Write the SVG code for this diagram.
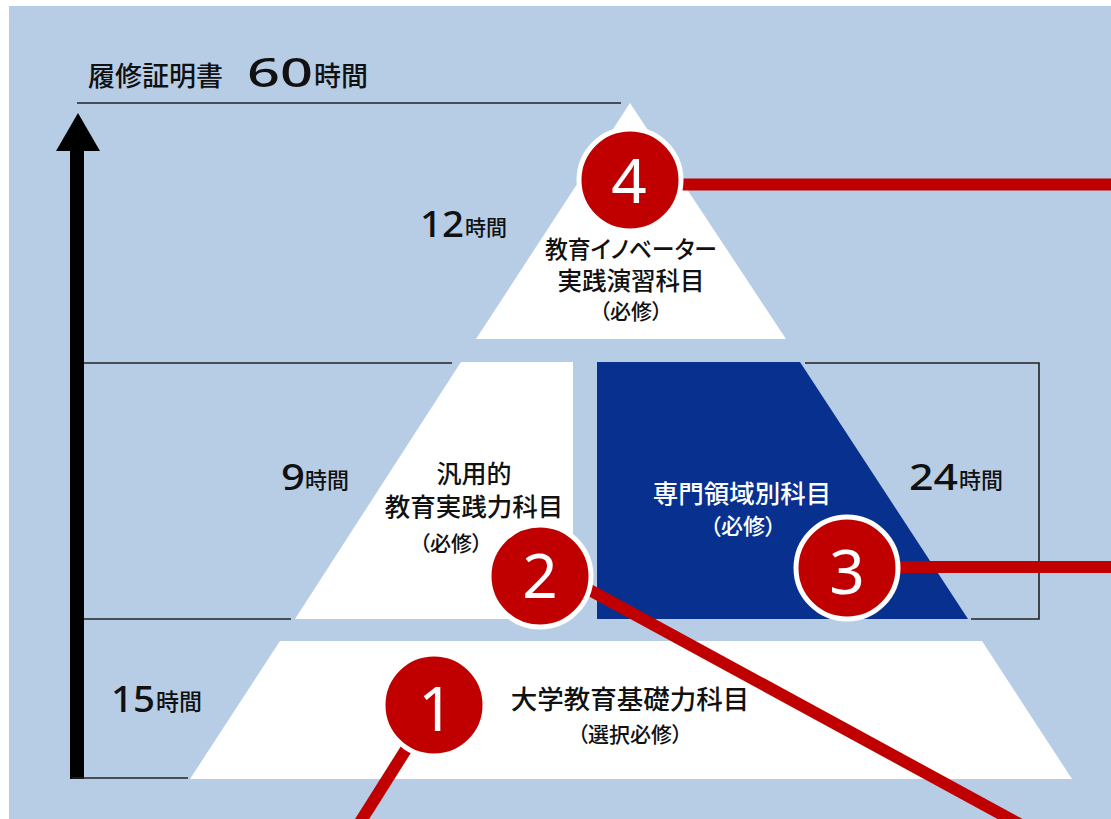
<svg xmlns="http://www.w3.org/2000/svg" width="1111" height="819" viewBox="0 0 1111 819">
<style>
.jp{font-family:"Noto Sans CJK JP","Noto Sans",sans-serif;fill:#111;font-weight:500;font-feature-settings:"palt";}
.num{font-family:"Noto Sans","Open Sans",sans-serif;fill:#111;font-weight:500;}
.wt{fill:#fff;}
.ctr{text-anchor:middle;}
.guide{stroke:#222;stroke-width:1.6;fill:none;}
.red{stroke:#C00000;stroke-width:12;fill:none;}
.badge{fill:#C00000;stroke:#fff;stroke-width:5;}
.badgeNum{font-family:"Noto Sans","Open Sans",sans-serif;font-size:62px;fill:#fff;text-anchor:middle;}
</style>
<rect x="0" y="0" width="1111" height="819" fill="#fff"/>
<rect id="background" x="9" y="6" width="1102" height="813" fill="#B7CDE6"/>

<g id="axis">
  <rect x="70" y="148" width="14" height="631" fill="#000"/>
  <polygon points="78,113 56,151 100,151" fill="#000"/>
  <line class="guide" x1="77" y1="103" x2="621" y2="103" stroke-width="2"/>
  <line class="guide" x1="84" y1="363" x2="452" y2="363"/>
  <line class="guide" x1="84" y1="619" x2="291" y2="619"/>
  <line class="guide" x1="72" y1="778" x2="188" y2="778" stroke-width="2"/>
  <polyline class="guide" points="805,363 1039,363 1039,619 971,619"/>
</g>

<g id="node-top">
  <polygon points="630,103 786,339 476,339" fill="#fff"/>
</g>
<g id="node-general">
  <polygon points="461,362 573,362 573,619 295,619" fill="#fff"/>
</g>
<g id="node-special">
  <polygon points="597,362 800,362 968,619 597,619" fill="#08318F"/>
</g>
<g id="node-base">
  <polygon points="280,641 982,641 1072,779 190,779" fill="#fff"/>
</g>

<g id="connectors">
  <line class="red" x1="630" y1="184.5" x2="1111" y2="184.5" stroke-width="11"/>
  <line class="red" x1="847" y1="567" x2="1111" y2="567"/>
  <line class="red" x1="540" y1="563" x2="1045" y2="838"/>
  <line class="red" x1="434" y1="705" x2="352" y2="835"/>
</g>

<g id="badge-4">
  <circle class="badge" cx="630" cy="180" r="51"/>
  <text class="badgeNum" x="629" y="203">4</text>
</g>
<g id="badge-3">
  <circle class="badge" cx="847" cy="568" r="51"/>
  <text class="badgeNum" x="847" y="594">3</text>
</g>
<g id="badge-2">
  <circle class="badge" cx="540" cy="576" r="51"/>
  <text class="badgeNum" x="540" y="598">2</text>
</g>
<g id="badge-1">
  <circle class="badge" cx="434" cy="705" r="51"/>
  <text class="badgeNum" x="436" y="731">1</text>
</g>

<g id="title">
  <text class="jp" x="88" y="86" font-size="27">履修証明書</text>
  <text class="num" x="247" y="87" font-size="40" textLength="66" lengthAdjust="spacingAndGlyphs">60</text>
  <text class="jp" x="314" y="86" font-size="27">時間</text>
</g>

<g id="label-top">
  <text class="num" x="420" y="237" font-size="37" textLength="44" lengthAdjust="spacingAndGlyphs">12</text>
  <text class="jp" x="465" y="235" font-size="21">時間</text>
  <text class="jp ctr" x="631" y="258" font-size="24" textLength="172" lengthAdjust="spacingAndGlyphs">教育イノベーター</text>
  <text class="jp ctr" x="631" y="290" font-size="24.5">実践演習科目</text>
  <text class="jp ctr" x="631" y="319" font-size="21">（必修）</text>
</g>

<g id="label-general">
  <text class="num" x="281" y="490" font-size="37" textLength="24" lengthAdjust="spacingAndGlyphs">9</text>
  <text class="jp" x="305" y="488" font-size="22">時間</text>
  <text class="jp ctr" x="474" y="483" font-size="25">汎用的</text>
  <text class="jp ctr" x="474" y="516" font-size="25.5">教育実践力科目</text>
  <text class="jp ctr" x="451" y="551" font-size="21">（必修）</text>
</g>

<g id="label-special">
  <text class="jp ctr wt" x="742" y="503" font-size="25.5">専門領域別科目</text>
  <text class="jp ctr wt" x="743" y="534" font-size="22">（必修）</text>
  <text class="num" x="909" y="490" font-size="37" textLength="49" lengthAdjust="spacingAndGlyphs">24</text>
  <text class="jp" x="959" y="488" font-size="22">時間</text>
</g>

<g id="label-base">
  <text class="num" x="111" y="712" font-size="37" textLength="44" lengthAdjust="spacingAndGlyphs">15</text>
  <text class="jp" x="156" y="710" font-size="23">時間</text>
  <text class="jp ctr" x="630" y="709" font-size="26.5">大学教育基礎力科目</text>
  <text class="jp ctr" x="630" y="742" font-size="21">（選択必修）</text>
</g>
</svg>
